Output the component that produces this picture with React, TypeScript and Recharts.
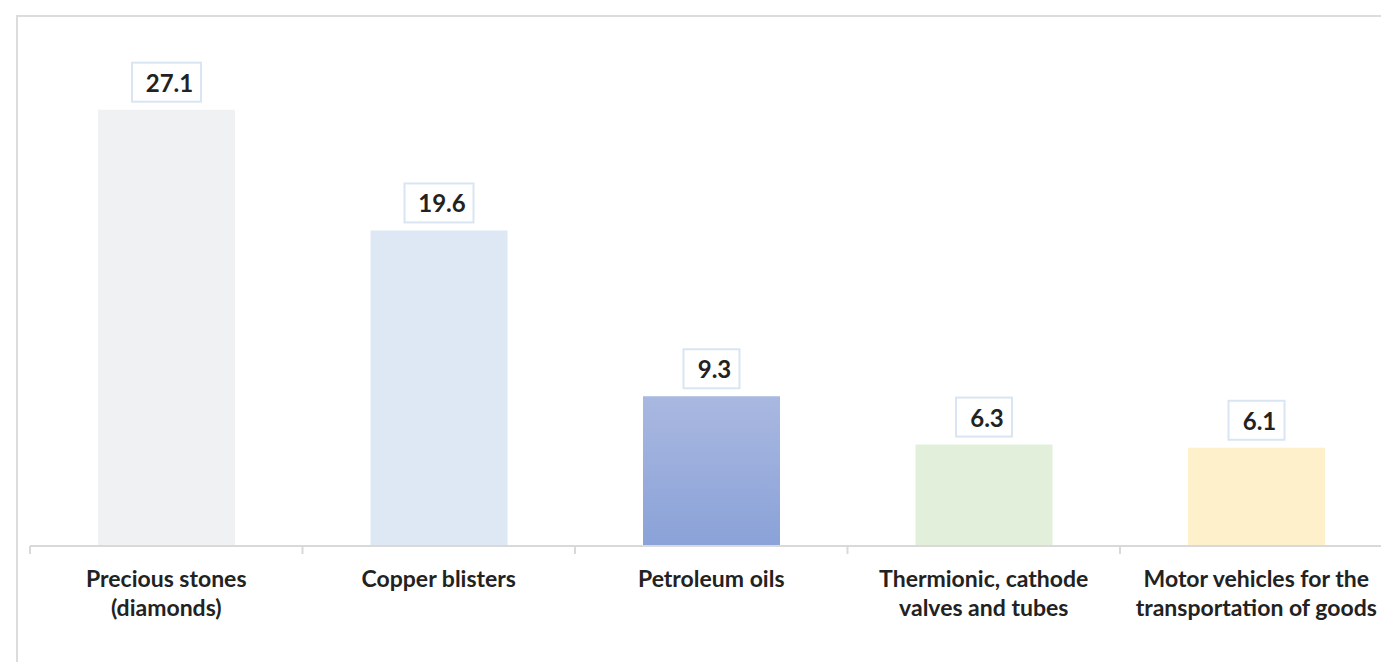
import React from "react";
import { BarChart, Bar, XAxis, YAxis, Cell, LabelList } from "recharts";

const categories = [
  "Precious stones\n(diamonds)",
  "Copper blisters",
  "Petroleum oils",
  "Thermionic, cathode\nvalves and tubes",
  "Motor vehicles for the\ntransportation of goods",
];
const shares = [27.1, 19.6, 9.3, 6.3, 6.1];
const barColors = ["#f0f1f3", "#dde8f4", "url(#oilFill)", "#e2efda", "#fef0cb"];

const data = categories.map((name, i) => ({ name, value: shares[i] }));

const W = 1400;
const H = 646;
const M = { top: 55, right: 15.5, bottom: 8, left: 22 };
const BAND = (W - M.left - M.right) / categories.length;
const FONT = "Lato, 'Open Sans', sans-serif";
const TEXT = "#222222";
const GRID = "#d9d9d9";

function CategoryTick(props: any) {
  const { x, y, payload, index } = props;
  const lines = String(payload.value).split("\n");
  const left = x - BAND / 2;
  return (
    <g>
      <line x1={left} y1={y} x2={left} y2={y + 8} stroke={GRID} strokeWidth={2} />
      {index === categories.length - 1 && (
        <line x1={left + BAND} y1={y} x2={left + BAND} y2={y + 8} stroke={GRID} strokeWidth={2} />
      )}
      {lines.map((line, i) => (
        <text
          key={i}
          x={x}
          y={y + 41 + i * 29}
          textAnchor="middle"
          fill={TEXT}
          fontFamily={FONT}
          fontWeight={700}
          fontSize={23}
        >
          {line}
        </text>
      ))}
    </g>
  );
}

function ValueBox(props: any) {
  const { x, y, width, value } = props;
  const label = Number(value).toFixed(1);
  const boxW = 13 * label.length + 17;
  const boxH = 39;
  const cx = x + width / 2;
  const bottom = y - 8;
  return (
    <g>
      <rect
        x={cx - boxW / 2}
        y={bottom - boxH}
        width={boxW}
        height={boxH}
        fill="#ffffff"
        stroke="#dae5f3"
        strokeWidth={2}
      />
      <text
        x={cx + 3}
        y={bottom - 10}
        textAnchor="middle"
        fill={TEXT}
        fontFamily={FONT}
        fontWeight={700}
        fontSize={24}
      >
        {label}
      </text>
    </g>
  );
}

export default function App() {
  return (
    <div style={{ position: "relative", width: 1381, height: 654, overflow: "hidden" }}>
      <div
        style={{
          position: "absolute",
          left: 8,
          top: 7,
          width: 1500,
          height: 800,
          border: "2px solid #dcdcdc",
          background: "#ffffff",
        }}
      />
      <div style={{ position: "absolute", left: 0, top: 0 }}>
        <BarChart width={W} height={H} data={data} margin={M}>
          <defs>
            <linearGradient id="oilFill" x1="0" y1="0" x2="0" y2="1">
              <stop offset="0%" stopColor="#a9b8e0" />
              <stop offset="100%" stopColor="#8aa2d8" />
            </linearGradient>
          </defs>
          <XAxis
            dataKey="name"
            height={100}
            interval={0}
            tickSize={0}
            tickMargin={0}
            tickLine={false}
            axisLine={{ stroke: GRID, strokeWidth: 2 }}
            tick={<CategoryTick />}
          />
          <YAxis hide domain={[0, 30]} />
          <Bar dataKey="value" barSize={137} isAnimationActive={false}>
            {data.map((_, i) => (
              <Cell key={`bar-${i}`} fill={barColors[i]} />
            ))}
            <LabelList dataKey="value" content={<ValueBox />} />
          </Bar>
        </BarChart>
      </div>
    </div>
  );
}
